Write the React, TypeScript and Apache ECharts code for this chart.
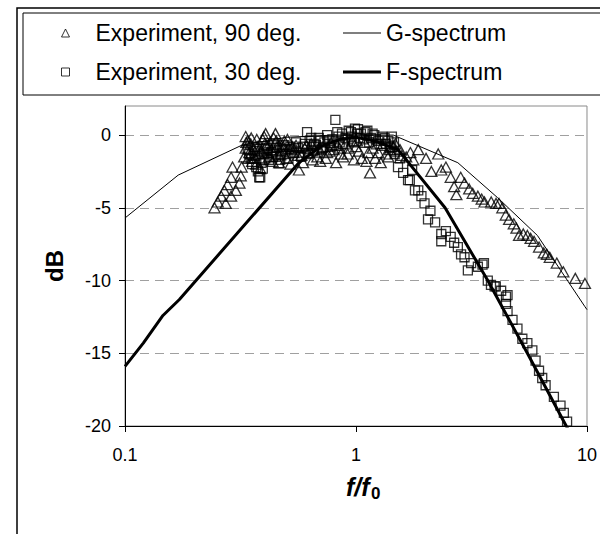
import React, { useEffect, useRef } from "react";
import * as echarts from "echarts";

const FONT = 'Arial, "Liberation Sans", sans-serif';

const xTickLabels = ["0.1", "1", "10"];
const yTicks = [-20, -15, -10, -5, 0];

// Experiment, 90 deg. : [f/f0, dB]
const exp90: [number, number][] = [
  [0.244, -5.0], [0.252, -4.6], [0.261, -4.2], [0.269, -3.8], [0.273, -4.7], [0.278, -3.4],
  [0.288, -2.9], [0.288, -4.2], [0.292, -2.2], [0.302, -3.8], [0.313, -3.3], [0.317, -2.8],
  [0.32, -2.2], [0.328, -1.5], [0.333, -0.9], [0.333, -0.1], [0.34, -0.4], [0.345, -1.2],
  [0.35, -0.6], [0.355, -1.8], [0.36, -1.0], [0.365, -1.6], [0.37, -2.0], [0.375, -0.8],
  [0.38, -1.3], [0.385, -2.3], [0.39, -1.1], [0.395, -0.3], [0.4, -0.1], [0.406, 0.1],
  [0.41, -0.7], [0.42, -1.5], [0.425, -0.5], [0.43, -1.0], [0.44, -0.2], [0.448, 0.1],
  [0.455, -0.8], [0.46, -1.3], [0.47, -0.6], [0.48, -1.1], [0.49, -0.4], [0.5, -1.6],
  [0.51, -0.9], [0.52, -2.0], [0.535, -1.2], [0.55, -0.7], [0.566, -2.4], [0.58, -1.4],
  [0.6, -0.9], [0.62, -1.2], [0.64, -0.6], [0.66, -1.0], [0.68, -1.5], [0.7, -1.8],
  [0.72, -0.8], [0.75, -1.2], [0.78, -0.5], [0.8, -1.0], [0.83, -0.7], [0.86, -1.3],
  [0.88, -1.5], [0.9, -0.6], [0.93, -0.9], [0.96, -0.4], [1.0, -0.8], [1.03, -1.1],
  [1.06, -1.6], [1.09, -0.5], [1.11, -1.8], [1.15, -2.6], [1.18, -0.9], [1.21, -1.6],
  [1.25, -1.2], [1.3, -0.7], [1.35, -1.3], [1.4, -1.0], [1.45, -0.8], [1.5, -1.1],
  [1.58, -1.4], [1.65, -1.5], [1.72, -1.2], [1.77, -1.7], [1.86, -1.0], [2.01, -1.6],
  [2.12, -2.5], [2.27, -1.3], [2.34, -2.4], [2.45, -2.2], [2.57, -2.9], [2.66, -3.55],
  [2.72, -4.1], [2.84, -2.9], [2.95, -3.3], [3.09, -3.7], [3.2, -4.0], [3.37, -4.2],
  [3.5, -4.4], [3.6, -4.6], [3.85, -4.6], [4.04, -4.7], [4.16, -4.7], [4.3, -5.0],
  [4.45, -5.5], [4.6, -5.8], [4.82, -6.1], [4.95, -6.4], [5.08, -6.9], [5.3, -6.8],
  [5.52, -6.9], [5.7, -7.1], [5.9, -7.3], [6.2, -7.7], [6.5, -8.1], [6.7, -8.2],
  [6.9, -8.4], [7.4, -8.8], [7.9, -9.4], [8.9, -9.85], [9.8, -10.2],
  [0.335, -0.5], [0.342, -1.6], [0.352, -0.2], [0.362, -1.4], [0.372, -0.3], [0.383, -0.9],
  [0.393, -1.7], [0.403, -0.6], [0.415, -1.2], [0.435, -1.8], [0.452, -0.4], [0.465, -1.9],
  [0.485, -0.8], [0.505, -0.3], [0.53, -0.8], [0.56, -1.4], [0.59, -1.9], [0.61, -0.7],
  [0.65, -1.7], [0.69, -0.9], [0.74, -1.6], [0.77, -1.1], [0.82, -1.9], [0.85, -0.9],
  [0.92, -1.3], [0.98, -1.7], [1.01, -0.4], [1.13, -1.2], [1.23, -0.6], [1.28, -1.9],
  [1.38, -1.5], [1.48, -0.6], [1.55, -1.0],
];

// Experiment, 30 deg. : [f/f0, dB]
const exp30: [number, number][] = [
  [0.34, -1.0], [0.35, -1.6], [0.36, -0.8], [0.37, -2.2], [0.376, -2.5], [0.381, -2.9],
  [0.385, -2.9], [0.39, -1.9], [0.4, -1.3], [0.41, -0.9], [0.42, -1.7], [0.43, -1.2],
  [0.44, -0.7], [0.45, -1.5], [0.463, -1.95], [0.47, -1.7], [0.48, -1.0], [0.5, -1.3],
  [0.52, -0.8], [0.54, -1.2], [0.56, -0.9], [0.58, -1.5], [0.6, -0.6], [0.614, 0.2],
  [0.63, -0.4], [0.65, -1.1], [0.67, -0.7], [0.69, -0.2], [0.71, -1.0], [0.73, -0.5],
  [0.75, 0.0], [0.77, -0.8], [0.79, -0.3], [0.814, 1.05], [0.83, 0.2], [0.85, -0.5],
  [0.87, 0.1], [0.9, -0.2], [0.93, 0.3], [0.96, -0.1], [0.99, 0.45], [1.02, 0.4],
  [1.05, 0.1], [1.08, -0.3], [1.12, 0.3], [1.16, -0.2], [1.2, 0.0], [1.25, -0.4],
  [1.3, -0.1], [1.35, -0.6], [1.4, -0.9], [1.43, -0.1], [1.47, -1.3], [1.52, -2.2],
  [1.55, -1.6], [1.6, -2.6], [1.68, -3.1], [1.71, -3.1], [1.75, -2.4], [1.8, -3.8],
  [1.86, -3.8], [1.92, -4.2], [1.98, -4.7], [2.05, -5.8], [2.1, -5.2], [2.2, -6.0],
  [2.34, -6.8], [2.34, -7.3], [2.45, -6.6], [2.57, -7.0], [2.66, -7.4], [2.76, -7.7],
  [2.85, -8.2], [2.95, -8.4], [3.05, -9.3], [3.15, -8.8], [3.37, -9.05], [3.53, -8.9],
  [3.58, -8.8], [3.72, -10.0], [3.84, -10.3], [3.98, -10.4], [4.03, -10.4], [4.25, -10.7],
  [4.46, -11.1], [4.46, -11.6], [4.53, -11.0], [4.53, -12.1], [4.76, -12.7], [5.0, -13.3],
  [5.25, -14.0], [5.52, -14.3], [5.8, -14.8], [5.99, -15.5], [6.2, -16.2], [6.4, -16.7],
  [6.62, -17.2], [7.19, -18.0], [7.68, -18.6], [7.94, -19.1], [8.2, -19.7],
  [0.345, -1.3], [0.355, -2.0], [0.365, -1.1], [0.395, -2.3], [0.405, -1.6], [0.415, -1.0],
  [0.435, -1.5], [0.455, -0.9], [0.475, -1.4], [0.49, -0.7], [0.51, -1.6], [0.53, -1.0],
  [0.55, -0.5], [0.57, -1.2], [0.59, -0.8], [0.62, -1.3], [0.64, -0.2], [0.66, -0.6],
  [0.68, -1.2], [0.7, -0.4], [0.72, -0.9], [0.76, -0.4], [0.8, -0.7], [0.84, -0.1],
  [0.88, -0.6], [0.92, -0.3], [0.95, 0.2], [0.98, -0.5], [1.01, 0.1], [1.04, -0.2],
  [1.1, 0.2], [1.14, -0.5], [1.18, 0.1], [1.22, -0.3], [1.28, -0.6], [1.33, -0.2],
  [1.38, -0.4], [1.42, -0.8], [1.46, -0.5],
];

// G-spectrum : [f/f0, dB]
const gSpectrum: [number, number][] = [
  [0.1, -5.7], [0.17, -2.75], [0.32, -0.7], [0.5, -0.15], [0.8, 0.0], [1.45, 0.0],
  [2.76, -1.9], [4.1, -4.3], [6.1, -6.9], [9.8, -11.8], [10, -12.0],
];

// F-spectrum : [f/f0, dB]
const fSpectrum: [number, number][] = [
  [0.1, -15.9], [0.12, -14.3], [0.146, -12.4], [0.172, -11.3], [0.566, -1.9], [0.7, -0.8],
  [0.85, -0.3], [1.0, -0.15], [1.2, -0.4], [1.52, -1.0], [2.43, -5.0], [3.72, -10.0],
  [5.52, -15.0], [8.13, -20.0], [8.4, -20.4],
];

export default function App() {
  const ref = useRef<HTMLDivElement>(null);
  useEffect(() => {
    if (!ref.current) return;
    const chart = echarts.init(ref.current, null, { renderer: "svg" });
    const hollow = { color: "rgba(0,0,0,0)", borderColor: "#000", borderWidth: 1.3 };
    const legendText = { fontSize: 23, lineHeight: 24, color: "#000", fontFamily: FONT };
    chart.setOption({
      animation: false,
      backgroundColor: "#fff",
      textStyle: { fontFamily: FONT },
      grid: { left: 125, top: 106, right: 12, bottom: 108, show: true, borderColor: "#8a8a8a", borderWidth: 1 },
      legend: [
        {
          orient: "vertical",
          left: 61,
          top: 21,
          padding: 0,
          itemWidth: 8,
          itemHeight: 8,
          itemGap: 15,
          textStyle: { ...legendText, padding: [0, 0, 0, 21] },
          data: [
            { name: "Experiment, 90 deg.", icon: "triangle", itemStyle: { ...hollow, borderWidth: 1 } },
            { name: "Experiment, 30 deg.", icon: "rect", itemStyle: { ...hollow, borderWidth: 1 } },
          ],
        },
        {
          orient: "vertical",
          left: 343,
          top: 21,
          padding: 0,
          itemWidth: 38,
          itemHeight: 14,
          itemGap: 15,
          textStyle: legendText,
          data: [
            { name: "G-spectrum", icon: "path://M0,0H38V1H0Z", itemStyle: { color: "#000", borderWidth: 0 } },
            { name: "F-spectrum", icon: "path://M0,0H38V3H0Z", itemStyle: { color: "#000", borderWidth: 0 } },
          ],
        },
      ],
      xAxis: {
        type: "log",
        logBase: 10,
        min: 0.1,
        max: 10,
        axisLine: { onZero: false, lineStyle: { color: "#000", width: 1 } },
        axisTick: { show: true, length: 6, lineStyle: { color: "#000" } },
        minorTick: { show: false },
        splitLine: { show: false },
        axisLabel: {
          color: "#000",
          fontSize: 18,
          fontFamily: FONT,
          margin: 20,
          formatter: (v: number) => {
            const i = Math.round(Math.log10(v)) + 1;
            return xTickLabels[i] ?? String(v);
          },
        },
      },
      yAxis: {
        type: "value",
        min: -20,
        max: 2,
        interval: 5,
        name: "dB",
        nameLocation: "middle",
        nameGap: 59,
        nameTextStyle: { fontSize: 24, fontWeight: "bold", color: "#000", fontFamily: FONT },
        axisLine: { show: true, onZero: false, lineStyle: { color: "#000", width: 1 } },
        axisTick: { show: true, length: 6, customValues: yTicks, lineStyle: { color: "#000" } },
        axisLabel: { color: "#000", fontSize: 18, fontFamily: FONT, margin: 14, customValues: yTicks },
        splitLine: { show: true, lineStyle: { color: "#a0a0a0", width: 1, type: [9, 6] } },
      },
      graphic: [
        {
          type: "rect",
          z: -10,
          silent: true,
          shape: { x: 17, y: 8, width: 800, height: 800 },
          style: { fill: "none", stroke: "#000", lineWidth: 1.5 },
        },
        {
          type: "rect",
          z: -9,
          silent: true,
          shape: { x: 23, y: 13, width: 800, height: 82 },
          style: { fill: "#fff", stroke: "#000", lineWidth: 1 },
        },
        {
          type: "text",
          silent: true,
          style: {
            text: "f/f",
            x: 346,
            y: 487,
            font: `italic bold 25px ${FONT}`,
            fill: "#000",
            verticalAlign: "middle",
          },
        },
        {
          type: "text",
          silent: true,
          style: {
            text: "0",
            x: 371,
            y: 493,
            font: `bold 17px ${FONT}`,
            fill: "#000",
            verticalAlign: "middle",
          },
        },
      ],
      series: [
        {
          name: "Experiment, 90 deg.",
          type: "scatter",
          symbol: "triangle",
          symbolSize: [11, 10],
          itemStyle: hollow,
          data: exp90,
          z: 2,
        },
        {
          name: "Experiment, 30 deg.",
          type: "scatter",
          symbol: "rect",
          symbolSize: 9,
          itemStyle: hollow,
          data: exp30,
          z: 2,
        },
        {
          name: "G-spectrum",
          type: "line",
          symbol: "none",
          showSymbol: false,
          lineStyle: { color: "#000", width: 1 },
          itemStyle: { color: "#000" },
          data: gSpectrum,
          z: 3,
        },
        {
          name: "F-spectrum",
          type: "line",
          symbol: "none",
          showSymbol: false,
          lineStyle: { color: "#000", width: 3 },
          itemStyle: { color: "#000" },
          data: fSpectrum,
          z: 3,
        },
      ],
    });
    return () => chart.dispose();
  }, []);
  return (
    <div
      ref={ref}
      style={{ position: "fixed", left: 0, top: 0, width: 600, height: 534, background: "#fff" }}
    />
  );
}
